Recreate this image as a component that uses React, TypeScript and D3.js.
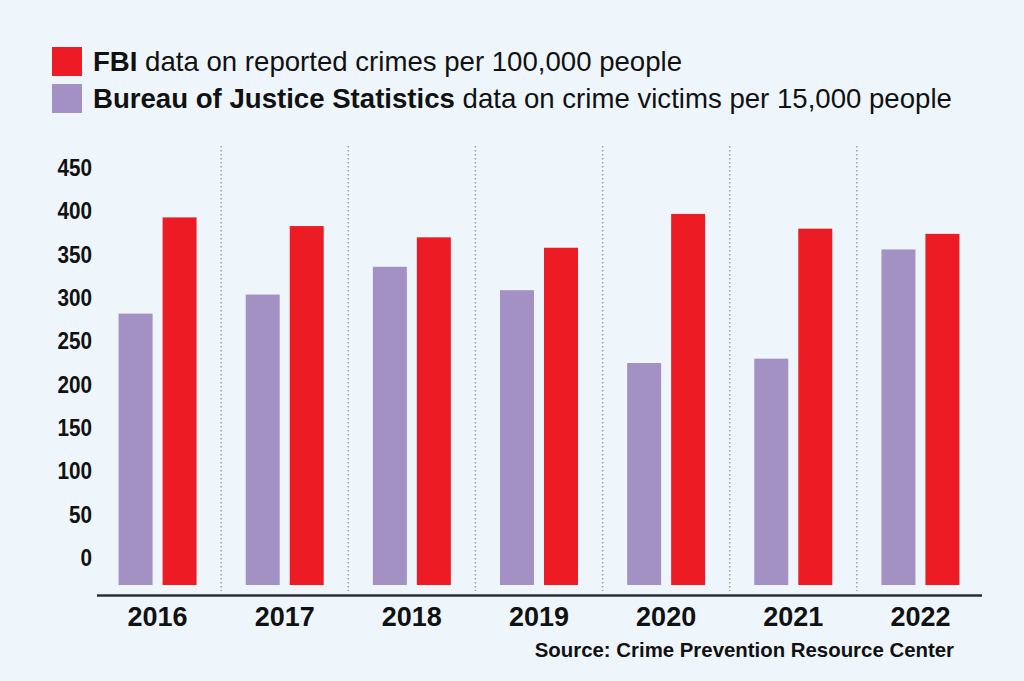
import React from "react";
import * as d3 from "d3";

const years = ["2016", "2017", "2018", "2019", "2020", "2021", "2022"];
const bjsValues = [282, 304, 336, 309, 225, 230, 356];
const fbiValues = [393, 383, 370, 358, 397, 380, 374];
const yTicks = [0, 50, 100, 150, 200, 250, 300, 350, 400, 450];

const W = 1024;
const H = 681;
const BG = "#eef6fc";
const RED = "#ed1c24";
const PURPLE = "#a391c3";
const FONT = "'Liberation Sans', Arial, Helvetica, sans-serif";

export default function App() {
  const x = d3.scaleBand<string>().domain(years).range([94, 984]).padding(0);
  const y = d3.scaleLinear().domain([0, 450]).range([558, 168]);
  const baseY = 585;
  const barW = 34;
  const gap = 10;
  const sepTop = 146;
  const sepBottom = 591;

  return (
    <div style={{ position: "fixed", left: 0, top: 0, width: W, height: H, background: BG }}>
      <svg width={W} height={H} style={{ display: "block" }}>
        <rect x={0} y={0} width={W} height={H} fill={BG} />
        {/* legend */}
        <rect x={52} y={47} width={30} height={29} fill={RED} />
        <rect x={52} y={84} width={30} height={29} fill={PURPLE} />
        <text x={93} y={71} fontFamily={FONT} fontSize={27.6} fill="#111">
          <tspan fontWeight="bold">FBI</tspan> data on reported crimes per 100,000 people
        </text>
        <text x={93} y={108} fontFamily={FONT} fontSize={27.6} fill="#111">
          <tspan fontWeight="bold">Bureau of Justice Statistics</tspan> data on crime victims per 15,000 people
        </text>

        {/* separators */}
        {years.slice(1).map((yr) => (
          <line
            key={"sep" + yr}
            x1={x(yr)!}
            x2={x(yr)!}
            y1={sepTop}
            y2={sepBottom}
            stroke="#9aa0a6"
            strokeWidth={1.5}
            strokeDasharray="1.5,2.5"
          />
        ))}

        {/* y tick labels */}
        {yTicks.map((t) => (
          <text
            key={"yt" + t}
            x={92}
            y={y(t)}
            dy="0.35em"
            textAnchor="end"
            fontFamily={FONT}
            fontWeight="bold"
            fontSize={23}
            fill="#111"
            transform={`translate(92,0) scale(0.9,1) translate(-92,0)`}
          >
            {t}
          </text>
        ))}

        {/* bars */}
        {years.map((yr, i) => {
          const c = x(yr)! + x.bandwidth() / 2;
          return (
            <g key={"bars" + yr}>
              <rect
                x={c - gap / 2 - barW}
                y={y(bjsValues[i])}
                width={barW}
                height={baseY - y(bjsValues[i])}
                fill={PURPLE}
              />
              <rect
                x={c + gap / 2}
                y={y(fbiValues[i])}
                width={barW}
                height={baseY - y(fbiValues[i])}
                fill={RED}
              />
            </g>
          );
        })}

        {/* x axis */}
        <line x1={97} x2={982} y1={595.5} y2={595.5} stroke="#2b2f33" strokeWidth={2.5} />
        {years.map((yr) => (
          <text
            key={"xl" + yr}
            x={x(yr)! + x.bandwidth() / 2}
            y={626}
            textAnchor="middle"
            fontFamily={FONT}
            fontWeight="bold"
            fontSize={27}
            fill="#111"
          >
            {yr}
          </text>
        ))}

        <text x={954} y={657} textAnchor="end" fontFamily={FONT} fontWeight="bold" fontSize={20.4} fill="#111">
          Source: Crime Prevention Resource Center
        </text>
      </svg>
    </div>
  );
}
